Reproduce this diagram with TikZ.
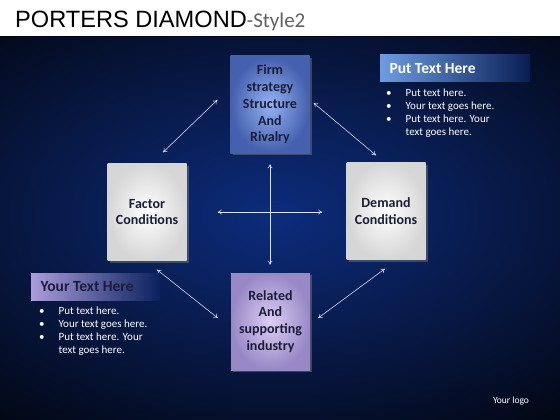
\documentclass[tikz,border=0pt]{standalone}
\usepackage{fontspec}
\setmainfont{Carlito}
\newfontfamily\headfont{Liberation Sans}
\usetikzlibrary{
    positioning,   % Relative positioning
    calc,          % Coordinate calculations
    arrows.meta,   % Modern arrow tips
    shadows        % Drop shadows
}

\definecolor{bgcentre}{HTML}{0C2C7C}
\definecolor{bgedge}{HTML}{030817}
\definecolor{firmin}{HTML}{93B2F2}
\definecolor{firmout}{HTML}{4460AE}
\definecolor{lilacin}{HTML}{DCCFF4}
\definecolor{lilacout}{HTML}{9888C6}
\definecolor{boxtext}{HTML}{1C1C38}
\definecolor{bluebar}{HTML}{6E9CE2}
\definecolor{lilacbar}{HTML}{AC9CDC}

\tikzset{
    diamondbox/.style={rectangle, minimum width=79pt, minimum height=97pt,
        align=center, text=boxtext,
        font=\bfseries\fontsize{14}{16.8}\selectfont,
        drop shadow={shadow xshift=2pt, shadow yshift=-2pt, opacity=0.45}},
    firmbox/.style={diamondbox, inner color=firmin, outer color=firmout},
    greybox/.style={diamondbox, inner color=white, outer color=black!16},
    lilacbox/.style={diamondbox, inner color=lilacin, outer color=lilacout},
    dblarrow/.style={draw=white!88!blue, line width=0.55pt,
        {To[length=4pt,width=5pt]}-{To[length=4pt,width=5pt]}},
    bartitle/.style={anchor=west, font=\bfseries\fontsize{15.5}{17}\selectfont},
    bulletlist/.style={anchor=north west, inner sep=0pt, text=white,
        font=\fontsize{11}{13}\selectfont}
}

\newcommand{\bulletrows}{%
    \begin{tabular}{@{}l@{\hspace{14pt}}l@{}}
        \textbullet & Put text here.\\
        \textbullet & Your text goes here.\\
        \textbullet & Put text here. Your\\
                    & text goes here.
    \end{tabular}}

\begin{document}
\begin{tikzpicture}[x=1pt,y=-1pt]
    \useasboundingbox (0,0) rectangle (560,420);
    % title strip and dark backdrop
    \shade[inner color=bgcentre, outer color=bgedge] (-170,-40) rectangle (720,470);
    \fill[white] (0,0) rectangle (560,37);
    \fill[bgedge] (0,36.5) rectangle (560,37.5);
    \node[anchor=base west, inner sep=0pt] (title) at (15,28)
        {\headfont\fontsize{23.6}{26}\selectfont PORTERS DIAMOND\textcolor{black!62}{\rmfamily\fontsize{21}{24}\selectfont-Style2}};

    % the four boxes
    \node[firmbox] (firm) at (270,104.5) {Firm\\strategy\\Structure\\And\\Rivalry};
    \node[greybox] (factor) at (147,212) {Factor\\Conditions};
    \node[greybox] (demand) at (386,211) {Demand\\Conditions};
    \node[lilacbox] (related) at (270.5,321.5) {Related\\And\\supporting\\industry};

    % links
    \draw[dblarrow] ($(factor.north)+(16,-11)$) -- ($(firm.west)+(-13,-4.5)$);
    \draw[dblarrow] ($(firm.east)+(4,-1.5)$) -- ($(demand.north)+(-10,-7)$);
    \draw[dblarrow] ($(factor.south)+(10,9)$) -- ($(related.west)+(-13,-3.5)$);
    \draw[dblarrow] ($(related.east)+(8,-3.5)$) -- ($(demand.south)+(-1,9)$);
    \draw[dblarrow] ($(factor.east)+(31,0)$) -- ($(demand.west |- factor.east)+(-24,0)$);
    \draw[dblarrow] ($(firm.south)+(0,11)$) -- ($(firm.south |- related.north)+(0,-8)$);

    % text panels
    \shade[left color=bluebar, right color=bgcentre!60!bgedge] (380,55) rectangle (530,82);
    \node[bartitle, text=white] (puttext) at (386,69) {Put Text Here};
    \node[bulletlist] (putlist) at (386,87) {\bulletrows};

    \shade[left color=lilacbar, right color=bgcentre!70!bgedge] (31,273) rectangle (160,300);
    \node[bartitle, text=boxtext] (yourtext) at (37,287) {Your Text Here};
    \node[bulletlist] (yourlist) at (39,305) {\bulletrows};

    \node[text=white, font=\fontsize{9.5}{11}\selectfont] (logo) at (511,401) {Your logo};
\end{tikzpicture}
\end{document}
